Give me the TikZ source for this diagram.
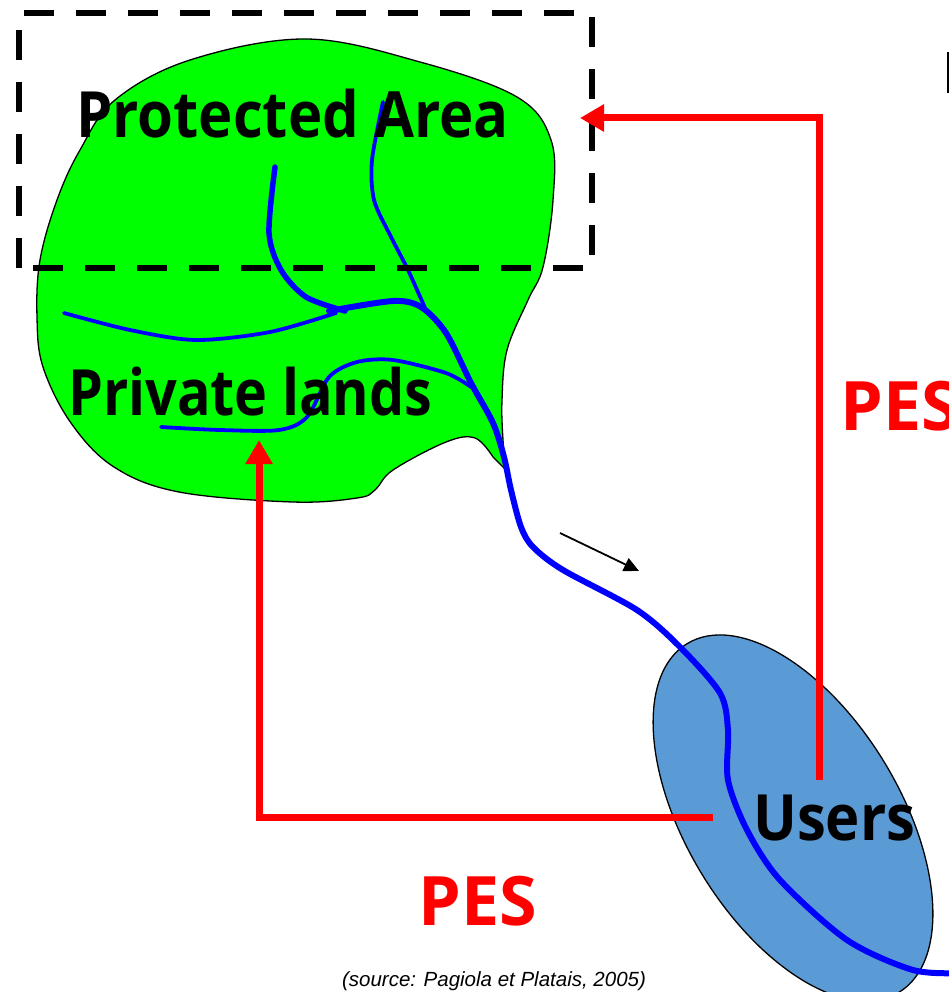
\documentclass[tikz,border=0pt]{standalone}
\usepackage{graphicx}
\usepackage{fontspec}
\setmainfont{Liberation Sans}
\newfontfamily\handfont{Open Sans}
\usetikzlibrary{arrows.meta}
\definecolor{landgreen}{RGB}{0,255,0}
\definecolor{riverblue}{RGB}{0,0,255}
\definecolor{userblue}{RGB}{91,155,213}
\definecolor{pesred}{RGB}{255,0,0}
% stretch the bold labels a little in height
\newcommand{\tallbox}[2][1]{\scalebox{#1}[1.1]{#2}}
\begin{document}
\begin{tikzpicture}[x=1pt,y=1pt,
  bigtext/.style={font=\handfont\bfseries\fontsize{58}{58}\selectfont, inner sep=0pt, anchor=base west},
  pestext/.style={bigtext, font=\handfont\bfseries\fontsize{62}{62}\selectfont, text=pesred},
  outline/.style={draw=black, line width=1.3pt},
  river/.style={draw=riverblue, line width=3.8pt, line cap=round, line join=round},
  mainriver/.style={river, line width=6pt},
  dashbox/.style={draw=black, line width=6.5pt, dash pattern=on 30pt off 22pt},
  pes/.style={draw=pesred, line width=7pt, -{Triangle[length=24pt,width=26pt]}},
  flow/.style={draw=black, line width=1.8pt, -{Triangle[length=15pt,width=14pt]}}]
\useasboundingbox (0,0) rectangle (949,-992);
\clip (0,0) rectangle (949,-992);

% land parcel
\path[outline, fill=landgreen] (506,-470) -- plot[smooth, tension=0.6] coordinates {
  (493,-457) (475,-438) (446,-442) (393,-470) (375,-490) (357,-498) (293,-502)
  (179,-492) (114,-467) (71,-423) (43,-367) (37,-317) (40,-260) (57,-200)
  (80,-150) (115,-100) (190,-60) (306,-39) (420,-62) (517,-97) (551,-140)
  (553,-200) (543,-267) (528,-300) (507,-350) (502,-400) (503,-440) (506,-470)} -- cycle;

% users
\path[outline, fill=userblue, rotate around={-58.75:(793,-818)}] (793,-818) ellipse [x radius=204, y radius=107];

% stream network
\draw[river, line width=5.5pt] plot[smooth] coordinates {(275,-167) (269,-233) (281,-270) (306,-297) (345,-311)};
\draw[river] plot[smooth] coordinates {(383,-102) (372,-160) (374,-200) (390,-235) (408,-270) (425,-308)};
\draw[river] plot[smooth] coordinates {(64,-313) (130,-330) (196,-340) (270,-332) (336,-313)};
\draw[river] plot[smooth] coordinates {(161,-427) (220,-430) (279,-430) (307,-417) (329,-377) (357,-362) (393,-360) (446,-373) (471,-387)};
\draw[mainriver] plot[smooth] coordinates {(329,-311) (393,-301) (421,-307) (446,-333) (471,-383)
  (493,-423) (504,-457) (511,-490) (521,-527) (533,-547) (563,-570) (637,-610) (680,-647)
  (720,-693) (728,-730) (728,-780) (747,-830) (780,-880) (847,-940) (913,-970) (960,-973)};

% protected area boundary
\path[dashbox] (19,-268) -- (19,-13) -- (592,-13) -- (592,-268) -- cycle;

% labels
\node[bigtext] (pa) at (76,-138) {\tallbox{Protected Area}};
\node[bigtext] (pl) at (68,-415) {\tallbox[0.96]{Private lands}};
\node[bigtext] (users) at (753,-840) {\tallbox{Users}};
\node[pestext] (pesR) at (840,-430) {\tallbox[1.1]{PES}};
\node[pestext] (pesB) at (418,-925) {\tallbox[1.1]{PES}};
\node[font=\itshape\fontsize{20.5}{20.5}\selectfont, inner sep=0pt, anchor=base] (src) at (494,-986) {(source: Pagiola et Platais, 2005)};

% payment flows
\coordinate (usersTop) at (819,-780);
\coordinate (usersLeft) at (713,-817);
\coordinate (paIn) at (580,-118);
\coordinate (plIn) at (259,-440);
\draw[pes] (usersTop) |- (paIn);
\draw[pes] (usersLeft) -| (plIn);

% flow direction
\coordinate (flowA) at (560,-533);
\coordinate (flowB) at (639,-571);
\draw[flow] (flowA) -- (flowB);

% edge of a cut-off glyph
\draw[line width=3pt] (948,-52) -- (948,-93);
\end{tikzpicture}
\end{document}
